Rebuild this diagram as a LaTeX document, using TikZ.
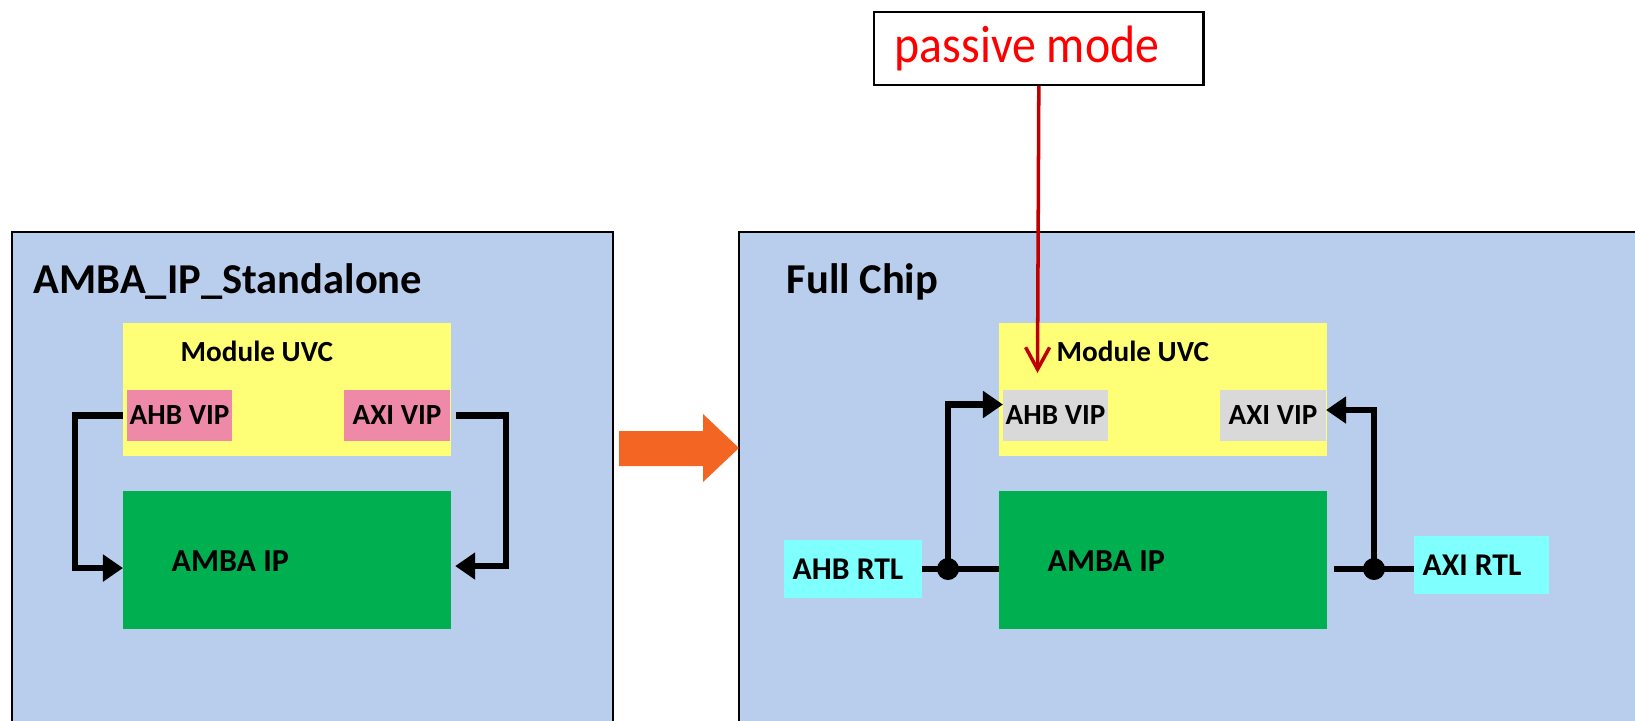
\documentclass[tikz,border=0pt]{standalone}
\usepackage{fontspec}
\setmainfont{Carlito}
\usepackage{tikz}
\usetikzlibrary{arrows.meta, positioning, calc}

\definecolor{panelblue}{RGB}{185,205,236}
\definecolor{uvcyellow}{RGB}{255,255,119}
\definecolor{vippink}{RGB}{238,138,168}
\definecolor{vipgrey}{RGB}{217,217,217}
\definecolor{ipgreen}{RGB}{0,176,80}
\definecolor{rtlcyan}{RGB}{128,255,255}
\definecolor{flowarrow}{RGB}{242,101,34}
\definecolor{modered}{RGB}{255,0,0}
\definecolor{pointerred}{RGB}{192,0,0}

\tikzset{
    panel/.style={draw=black, line width=0.85pt, fill=panelblue},
    blk/.style={inner sep=0pt, outer sep=0pt, anchor=north west, font=\bfseries\fontsize{8.3}{10}\selectfont},
    rtl/.style={blk, fill=rtlcyan, minimum height=0.58cm},
    lbl/.style={inner sep=0pt, anchor=base west, font=\bfseries\fontsize{8.3}{10}\selectfont},
    title/.style={inner sep=0pt, anchor=base west, font=\bfseries\fontsize{12.1}{14}\selectfont},
    wire/.style={line width=1.8pt},
    arrowwire/.style={wire, -{Triangle[length=0.2cm, width=0.26cm]}},
    junction/.style={circle, fill=black, inner sep=0pt, minimum size=0.22cm}
}

\begin{document}
\begin{tikzpicture}[x=0.01cm, y=-0.01cm]
    \useasboundingbox (0,0) rectangle (1635,721);
    \clip (0,0) rectangle (1635,721);

    % Panels
    \draw[panel] (12,232) rectangle (613,745);
    \draw[panel] (739,232) rectangle (1670,745);
    \node[title] (titleL) at (33,293) {AMBA\_IP\_Standalone};
    \node[title] (titleR) at (786,293) {Full Chip};

    % Module UVC and AMBA IP in both panels
    \foreach \s/\x/\vipcol in {L/123/vippink, R/999/vipgrey} {
        \node[blk, fill=uvcyellow, minimum width=3.28cm, minimum height=1.33cm] (uvc\s) at (\x,323) {};
        \node[lbl] at ($(uvc\s.north west)+(57,38)$) {Module UVC};
        \node[blk, fill=\vipcol, minimum width=1.05cm, minimum height=0.51cm] (ahb\s) at ($(uvc\s.north west)+(4,67)$) {AHB VIP};
        \node[blk, fill=\vipcol, minimum width=1.06cm, minimum height=0.51cm] (axi\s) at ($(uvc\s.north west)+(221,67)$) {AXI VIP};
        \node[blk, fill=ipgreen, minimum width=3.28cm, minimum height=1.38cm] (ip\s) at (\x,491) {};
        \node[lbl, anchor=west, font=\bfseries\fontsize{9.1}{11}\selectfont] at ($(ip\s.west)+(48,1)$) {AMBA IP};
    }

    % Standalone loop-back
    \draw[arrowwire] ([xshift=-0.04cm]ahbL.west) -- ++(-48,0) |- ([yshift=-0.08cm]ipL.west);
    \draw[arrowwire] ([xshift=0.06cm]axiL.east) -- ++(50,0) |- ([xshift=0.04cm, yshift=-0.06cm]ipL.east);

    % Orange flow arrow
    \fill[flowarrow] (619,431) -- (703,431) -- (703,414) -- (739,448) -- (703,482) -- (703,466) -- (619,466) -- cycle;

    % RTL blocks
    \node[rtl, minimum width=1.38cm] (ahbrtl) at (784,540) {};
    \node[rtl, minimum width=1.35cm] (axirtl) at (1414,536) {};
    \node[lbl, anchor=west, font=\bfseries\fontsize{9}{11}\selectfont] at ([xshift=0.08cm]ahbrtl.west) {AHB RTL};
    \node[lbl, anchor=west, font=\bfseries\fontsize{9}{11}\selectfont] at ([xshift=0.08cm]axirtl.west) {AXI RTL};

    % Full chip connections
    \node[junction] (jl) at (948,569) {};
    \node[junction] (jr) at (1374,569) {};
    \draw[wire] (ahbrtl.east |- jl) -- (ipR.west |- jl);
    \draw[wire] ($(jr -| ipR.east)+(7,0)$) -- (jr -| axirtl.west);
    \draw[arrowwire] (jl.center) |- ([yshift=0.11cm]ahbR.west);
    \draw[arrowwire] (jr.center) |- ([yshift=0.055cm]axiR.east);

    % Passive mode note
    \node[draw=black, line width=0.7pt, fill=white, inner sep=0pt, anchor=north west, minimum width=3.29cm, minimum height=0.73cm] (pm) at (873,10.5) {};
    \node[inner sep=0pt, anchor=base west, text=modered, font=\fontsize{13.6}{16}\selectfont] (pmtext) at (894,63) {\scalebox{1}[1.1]{passive mode}};
    \coordinate (ptip) at (1037.5,373);
    \draw[pointerred, line width=1pt, -{Straight Barb[length=0.22cm, width=0.24cm]}] (pm.south) -- (ptip);
\end{tikzpicture}
\end{document}
